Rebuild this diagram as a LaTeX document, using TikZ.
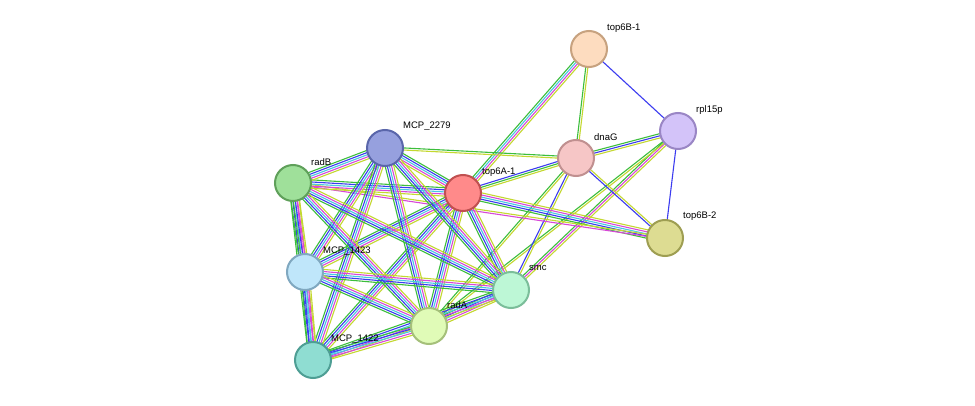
\documentclass[tikz,border=0pt]{standalone}
\usepackage{fontspec}
\setmainfont{Liberation Sans}
\usetikzlibrary{calc,backgrounds}
\definecolor{eg}{HTML}{3CBE3C}
\definecolor{eb}{HTML}{3C3CF0}
\definecolor{em}{HTML}{D848D8}
\definecolor{ec}{HTML}{48C8E0}
\definecolor{ey}{HTML}{C4D830}
\tikzset{edge/.style={line width=1.1pt}}
\newcommand\ed[4]{\foreach \c [count=\i] in {#4} {
  \pgfmathsetmacro\o{(\i-1-(#3-1)/2)*2.1}
  \draw[edge,\c] ($(#1.center)!\o pt!90:(#2.center)$) -- ($(#2.center)!\o pt!-90:(#1.center)$);}}
\begin{document}
\begin{tikzpicture}[x=1pt,y=-1pt,
  prot/.style={circle,minimum size=36pt,inner sep=0pt,line width=2pt},
  lab/.style={anchor=west,font=\fontsize{9.5}{11}\selectfont,inner sep=0pt}]
\node[prot,fill={rgb,255:red,253;green,220;blue,191},draw={rgb,255:red,199;green,162;blue,127}] (t61) at (589,49) {};
\node[prot,fill={rgb,255:red,211;green,195;blue,249},draw={rgb,255:red,154;green,134;blue,197}] (rpl) at (678,131) {};
\node[prot,fill={rgb,255:red,246;green,198;blue,198},draw={rgb,255:red,192;green,144;blue,144}] (dna) at (576,158) {};
\node[prot,fill={rgb,255:red,255;green,138;blue,138},draw={rgb,255:red,192;green,80;blue,80}] (t6a) at (463,193) {};
\node[prot,fill={rgb,255:red,150;green,160;blue,222},draw={rgb,255:red,90;green,102;blue,170}] (m79) at (385,148) {};
\node[prot,fill={rgb,255:red,159;green,224;blue,154},draw={rgb,255:red,95;green,160;blue,90}] (rdb) at (293,183) {};
\node[prot,fill={rgb,255:red,221;green,220;blue,146},draw={rgb,255:red,158;green,158;blue,82}] (t62) at (665,238) {};
\node[prot,fill={rgb,255:red,191;green,230;blue,250},draw={rgb,255:red,128;green,168;blue,192}] (m23) at (305,272) {};
\node[prot,fill={rgb,255:red,189;green,247;blue,214},draw={rgb,255:red,123;green,190;blue,154}] (smc) at (511,290) {};
\node[prot,fill={rgb,255:red,224;green,251;blue,183},draw={rgb,255:red,165;green,192;blue,122}] (rda) at (429,326) {};
\node[prot,fill={rgb,255:red,143;green,221;blue,210},draw={rgb,255:red,78;green,158;blue,148}] (m22) at (313,360) {};
\begin{scope}[on background layer]
\fill[white] (0,0) rectangle (975,406);
\ed{t61}{rpl}{1}{eb}
\ed{t61}{dna}{2}{eg,ey}
\ed{t61}{t6a}{4}{eg,ec,em,ey}
\ed{rpl}{dna}{3}{eg,eb,ey}
\ed{rpl}{t62}{1}{eb}
\ed{rpl}{smc}{3}{eg,em,ey}
\ed{rpl}{rda}{2}{eg,ey}
\ed{dna}{t6a}{3}{eb,eg,ey}
\ed{dna}{m79}{2}{eg,ey}
\ed{dna}{t62}{2}{eb,ey}
\ed{dna}{smc}{2}{eb,ey}
\ed{dna}{rda}{2}{eg,ey}
\ed{t6a}{t62}{5}{eg,eb,ec,em,ey}
\ed{rdb}{t62}{2}{em,ey}
\foreach \a/\b in {t6a/m79,t6a/rdb,t6a/m23,t6a/smc,t6a/rda,t6a/m22,m79/rdb,m79/m23,m79/smc,m79/rda,m79/m22,rdb/smc,rdb/rda,rdb/m22,m23/smc,m23/rda,m23/m22,smc/rda,smc/m22,rda/m22}{\ed{\a}{\b}{5}{eg,eb,ec,em,ey}}
\ed{rdb}{m23}{5}{eg,eg,eb,em,ey}
\end{scope}
\node[lab] (l1) at (607,28) {top6B-1};
\node[lab] (l2) at (696,110) {rpl15p};
\node[lab] (l3) at (594,137) {dnaG};
\node[lab] (l4) at (482,172) {top6A-1};
\node[lab] (l5) at (403,126) {MCP\_2279};
\node[lab] (l6) at (311,162) {radB};
\node[lab] (l7) at (683,216) {top6B-2};
\node[lab] (l8) at (323,251) {MCP\_1423};
\node[lab] (l9) at (529,268) {smc};
\node[lab] (l10) at (447,305) {radA};
\node[lab] (l11) at (331,339) {MCP\_1422};
\end{tikzpicture}
\end{document}
